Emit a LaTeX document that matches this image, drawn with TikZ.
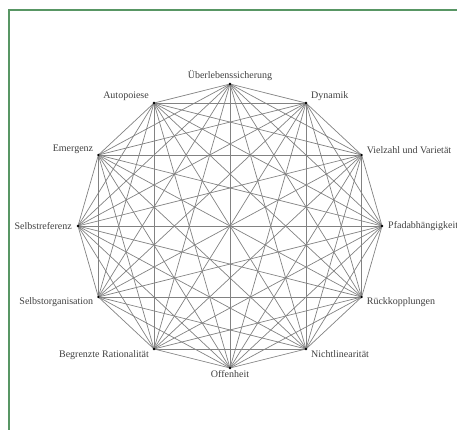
\documentclass[tikz,border=0pt]{standalone}
\usepackage{fontspec}
\setmainfont{Liberation Serif}
\definecolor{frame}{RGB}{88,150,100}
\definecolor{edge}{RGB}{130,130,130}
\tikzset{
  vertex/.style={circle,fill=black,inner sep=0pt,minimum size=2.6pt},
  lbl/.style={font=\fontsize{10}{11}\selectfont,text=black!75,inner sep=1pt},
  link/.style={draw=edge,line width=0.7pt}
}
\begin{document}
\begin{tikzpicture}[x=1pt,y=-1pt]
  \useasboundingbox (0,0) rectangle (457,429);
  \clip (0,0) rectangle (457,429);
  % outer frame, open to the right and bottom
  \draw[frame,line width=1.6pt] (8.8,440) -- (8.8,10.2) -- (470,10.2);
  % twelve concepts on an ellipse
  \foreach \i in {0,...,11}{
    \coordinate (p\i) at ({230+152*sin(30*\i)},{226-142*cos(30*\i)});
  }
  % every concept is linked to every other one
  \foreach \i in {0,...,10}{
    \pgfmathtruncatemacro{\s}{\i+1}
    \foreach \j in {\s,...,11}{
      \draw[link] (p\i) -- (p\j);
    }
  }
  \foreach \i in {0,...,11}{
    \node[vertex] (v\i) at (p\i) {};
  }
  % labels
  \node[lbl,anchor=south] (l0) at ([yshift=2]v0) {Überlebenssicherung};
  \node[lbl,anchor=south west] (l1) at ([xshift=4,yshift=1]v1) {Dynamik};
  \node[lbl,anchor=south west] (l2) at ([xshift=4,yshift=0]v2) {Vielzahl und Varietät};
  \node[lbl,anchor=west] (l3) at ([xshift=5]v3) {Pfadabhängigkeit};
  \node[lbl,anchor=north west] (l4) at ([xshift=4,yshift=1]v4) {Rückkopplungen};
  \node[lbl,anchor=north west] (l5) at ([xshift=4,yshift=0]v5) {Nichtlinearität};
  \node[lbl,anchor=north] (l6) at ([yshift=-1.5]v6) {Offenheit};
  \node[lbl,anchor=north east] (l7) at ([xshift=-4,yshift=0]v7) {Begrenzte Rationalität};
  \node[lbl,anchor=north east] (l8) at ([xshift=-4,yshift=1]v8) {Selbstorganisation};
  \node[lbl,anchor=east] (l9) at ([xshift=-5]v9) {Selbstreferenz};
  \node[lbl,anchor=south east] (l10) at ([xshift=-4,yshift=0]v10) {Emergenz};
  \node[lbl,anchor=south east] (l11) at ([xshift=-4,yshift=1]v11) {Autopoiese};
\end{tikzpicture}
\end{document}
